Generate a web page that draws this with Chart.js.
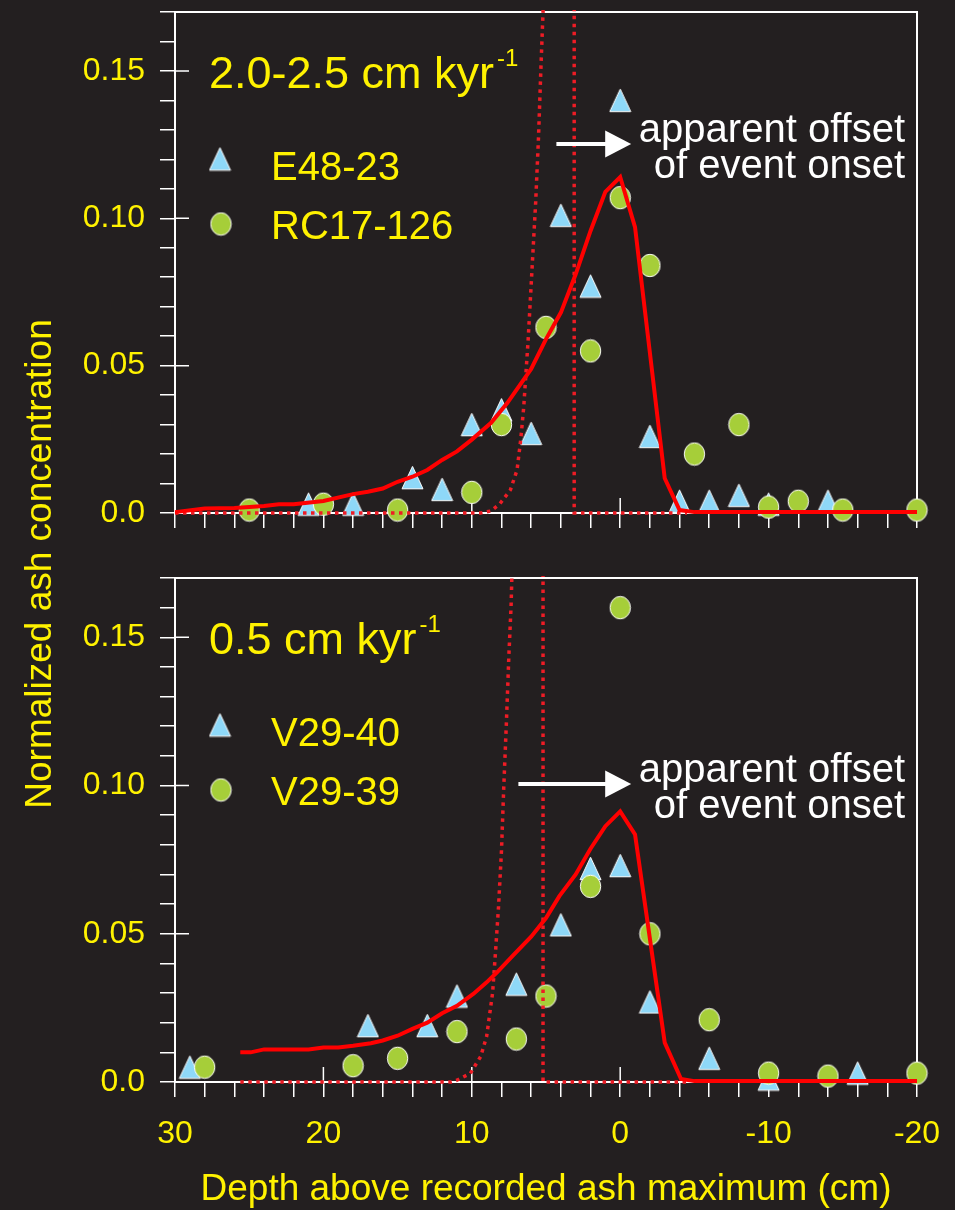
<!DOCTYPE html>
<html>
<head>
<meta charset="utf-8">
<script src="https://cdn.jsdelivr.net/npm/chart.js@4.4.1/dist/chart.umd.min.js"></script>
<style>
  html, body { margin: 0; padding: 0; background: #231f20; }
  #wrap { position: relative; width: 955px; height: 1210px; }
  #wrap canvas { position: absolute; left: 0; top: 0; }
</style>
</head>
<body>
<div id="wrap">
  <canvas id="upper" width="955" height="1210"></canvas>
  <canvas id="lower" width="955" height="1210"></canvas>
</div>
<script>
// depth above recorded ash maximum (cm) / normalized ash concentration

// upper panel, 2.0-2.5 cm/kyr
var e4823Depth = [21, 18, 14, 12, 10, 8, 6, 4, 2, 0, -2, -4, -6, -8, -10, -14];
var e4823Conc  = [0.003, 0.003, 0.012, 0.008, 0.030, 0.035, 0.027, 0.101, 0.077, 0.140, 0.026, 0.004, 0.004, 0.006, 0.003, 0.004];
var rc17Depth = [25, 20, 15, 10, 8, 5, 2, 0, -2, -5, -8, -10, -12, -15, -20];
var rc17Conc  = [0.001, 0.003, 0.001, 0.007, 0.030, 0.063, 0.055, 0.107, 0.084, 0.020, 0.030, 0.002, 0.004, 0.001, 0.001];
var upModelDepth = [30, 28, 26, 24, 23, 22, 20, 18, 17, 16, 15, 14, 13, 12, 11, 10, 8.7, 7.6, 6, 5, 4, 3, 2, 1, 0, -1, -3, -4, -5, -20];
var upModelConc  = [0.0003, 0.0015, 0.0017, 0.0024, 0.003, 0.003, 0.0041, 0.0064, 0.0072, 0.0083, 0.0106, 0.0123, 0.0146, 0.018, 0.0209, 0.0249, 0.0306, 0.0374, 0.0489, 0.059, 0.068, 0.081, 0.0957, 0.109, 0.114, 0.097, 0.0118, 0.001, 0.0003, 0.0003];
var upInputDepth = [30, 9.4, 8.7, 8.1, 7.4, 6.95, 6.7, 6.5, 6.2, 5.95, 5.7, 5.5, 5.35, 5.2, 5.1];
var upInputConc  = [0, 0, 0.0007, 0.0032, 0.0078, 0.0146, 0.025, 0.036, 0.059, 0.082, 0.105, 0.128, 0.150, 0.170, 0.185];
var upOnsetDepth = [3.1, 3.1, -4.5];
var upOnsetConc  = [0.185, 0, 0];

// lower panel, 0.5 cm/kyr
var v2940Depth = [29, 17, 13, 11, 7, 4, 2, 0, -2, -6, -10, -16];
var v2940Conc  = [0.005, 0.019, 0.019, 0.029, 0.033, 0.053, 0.072, 0.073, 0.027, 0.008, 0.001, 0.003];
var v2939Depth = [28, 18, 15, 11, 7, 5, 2, 0, -2, -6, -10, -14, -20];
var v2939Conc  = [0.005, 0.0055, 0.008, 0.017, 0.0145, 0.029, 0.066, 0.160, 0.050, 0.021, 0.003, 0.002, 0.003];
var lowModelDepth = [25.6, 24.9, 24, 21, 20, 19, 18, 16.8, 16, 15, 14, 13, 12, 11, 9.9, 9, 8.3, 7.2, 6, 5, 4.1, 3, 2, 1, 0, -1, -3, -4.1, -5, -20];
var lowModelConc  = [0.010, 0.010, 0.011, 0.011, 0.0116, 0.0116, 0.0122, 0.0131, 0.014, 0.0156, 0.0179, 0.020, 0.0232, 0.0257, 0.0297, 0.0336, 0.037, 0.0428, 0.049, 0.0553, 0.0627, 0.070, 0.0787, 0.0863, 0.0913, 0.0835, 0.0133, 0.001, 0.0003, 0.0003];
var lowInputDepth = [25.6, 11.4, 11.0, 10.1, 9.4, 9.0, 8.6, 8.4, 8.2, 8.0, 7.85, 7.67, 7.5, 7.35, 7.25];
var lowInputConc  = [0, 0, 0.0006, 0.0029, 0.0086, 0.0154, 0.030, 0.044, 0.059, 0.078, 0.099, 0.121, 0.144, 0.161, 0.180];
var lowOnsetDepth = [5.2, 5.2, -4.5];
var lowOnsetConc  = [0.185, 0, 0];

var majorYTicks = [0, 0.05, 0.10, 0.15];
var majorXTicks = [20, 10, 0, -10];

var YELLOW = '#fff200';
var FONT = '"Liberation Sans", Arial, Helvetica, sans-serif';
Chart.defaults.font.family = FONT;

function pts(xs, ys) {
    return xs.map(function(x, i) { return { x: x, y: ys[i] }; });
}

// marker images: light blue triangle, green (slightly tall) dot
var triImg = document.createElement('canvas');
triImg.width = 23; triImg.height = 25;
(function() {
    var c = triImg.getContext('2d');
    c.beginPath();
    c.moveTo(11.5, 1.2); c.lineTo(22, 23.7); c.lineTo(1, 23.7); c.closePath();
    c.fillStyle = '#8ed8f8'; c.fill();
    c.strokeStyle = '#ffffff'; c.lineWidth = 1; c.stroke();
})();
var dotImg = document.createElement('canvas');
dotImg.width = 23; dotImg.height = 25;
(function() {
    var c = dotImg.getContext('2d');
    c.beginPath();
    c.ellipse(11.5, 12.5, 10.2, 11.2, 0, 0, Math.PI * 2);
    c.fillStyle = '#a6ce39'; c.fill();
    c.strokeStyle = '#ffffff'; c.lineWidth = 1; c.stroke();
})();

var panelDecor = {
    id: 'panelDecor',
    beforeDatasetsDraw: function(chart) {
        var ctx = chart.ctx, a = chart.chartArea;
        var xs = chart.scales.x, ys = chart.scales.y;
        ctx.save();
        ctx.strokeStyle = '#ffffff';
        ctx.lineWidth = 2;
        ctx.strokeRect(a.left, a.top, a.right - a.left, a.bottom - a.top);
        ctx.lineWidth = 1.5;
        ctx.beginPath();
        majorYTicks.forEach(function(v) {
            var py = ys.getPixelForValue(v);
            ctx.moveTo(a.left, py); ctx.lineTo(a.left + 14, py);
        });
        majorXTicks.forEach(function(v) {
            var px = xs.getPixelForValue(v);
            ctx.moveTo(px, a.bottom); ctx.lineTo(px, a.bottom - 15);
        });
        ctx.stroke();
        ctx.restore();
    },
    afterDatasetsDraw: function(chart, args, o) {
        var ctx = chart.ctx, a = chart.chartArea;
        var xs = chart.scales.x, ys = chart.scales.y;
        ctx.save();

        // sedimentation rate label
        ctx.fillStyle = YELLOW;
        ctx.textAlign = 'left';
        ctx.textBaseline = 'alphabetic';
        ctx.font = '45px ' + FONT;
        ctx.fillText(o.rate, a.left + 34, a.top + 76);
        var w = ctx.measureText(o.rate).width;
        ctx.font = '24px ' + FONT;
        ctx.fillText('-1', a.left + 34 + w + 3, a.top + 54);

        // legend
        ctx.drawImage(triImg, a.left + 45 - triImg.width / 2, a.top + 147 - triImg.height / 2);
        ctx.drawImage(dotImg, a.left + 46 - dotImg.width / 2, a.top + 212 - dotImg.height / 2);
        ctx.font = '40px ' + FONT;
        ctx.fillText(o.names[0], a.left + 96, a.top + 167.5);
        ctx.fillText(o.names[1], a.left + 96, a.top + 227);

        // arrow + note
        var ay = ys.getPixelForValue(o.arrowAt);
        var x0 = xs.getPixelForValue(o.arrowFrom), x1 = xs.getPixelForValue(o.arrowTo);
        ctx.strokeStyle = '#ffffff';
        ctx.fillStyle = '#ffffff';
        ctx.lineWidth = 4;
        ctx.beginPath();
        ctx.moveTo(x0, ay); ctx.lineTo(x1 - 20, ay);
        ctx.stroke();
        ctx.beginPath();
        ctx.moveTo(x1, ay); ctx.lineTo(x1 - 26, ay - 13.5); ctx.lineTo(x1 - 26, ay + 13.5);
        ctx.closePath();
        ctx.fill();
        ctx.font = '40px ' + FONT;
        ctx.textAlign = 'right';
        ctx.fillText('apparent offset', a.right - 12, ay - 2.5);
        ctx.fillText('of event onset', a.right - 12, ay + 33.5);

        // shared y title
        if (o.yTitle) {
            ctx.translate(41, 564);
            ctx.rotate(-Math.PI / 2);
            ctx.textAlign = 'center';
            ctx.textBaseline = 'middle';
            ctx.fillStyle = YELLOW;
            ctx.font = '37px ' + FONT;
            ctx.fillText(o.yTitle, 0, 0);
        }
        ctx.restore();
    }
};

function curve(label, data, color, width, dash) {
    return {
        type: 'line',
        label: label,
        data: data,
        borderColor: color,
        borderWidth: width,
        borderDash: dash,
        borderCapStyle: 'butt',
        borderJoinStyle: 'miter',
        fill: false,
        tension: 0,
        pointRadius: 0,
        clip: { left: 3, right: 3, top: 2, bottom: 4 },
        order: 0
    };
}

function buildPanel(canvasId, series, deco, pad, xHeight, bottomAxis) {
    return new Chart(document.getElementById(canvasId), {
        type: 'scatter',
        data: {
            datasets: [
                curve('model', pts(series.modelX, series.modelY), '#ff0000', 4, []),
                curve('input', pts(series.inputX, series.inputY), '#ee1c25', 3.5, [3.5, 4.5]),
                curve('onset', pts(series.onsetX, series.onsetY), '#ee1c25', 3.5, [3.5, 4.5]),
                {
                    label: deco.names[0],
                    data: pts(series.triX, series.triY),
                    pointStyle: triImg,
                    pointRadius: 11,
                    clip: false,
                    order: 2
                },
                {
                    label: deco.names[1],
                    data: pts(series.dotX, series.dotY),
                    pointStyle: dotImg,
                    pointRadius: 11,
                    clip: false,
                    order: 1
                }
            ]
        },
        options: {
            responsive: false,
            animation: false,
            devicePixelRatio: 1,
            events: [],
            layout: { padding: pad },
            plugins: {
                legend: { display: false },
                tooltip: { enabled: false },
                panelDecor: deco
            },
            scales: {
                x: {
                    type: 'linear',
                    min: -20,
                    max: 30,
                    reverse: true,
                    afterFit: function(s) {
                        s.height = xHeight;
                        s.paddingLeft = 0; s.paddingRight = 0;
                    },
                    ticks: {
                        display: bottomAxis,
                        stepSize: 2,
                        autoSkip: false,
                        maxRotation: 0,
                        padding: 18,
                        color: YELLOW,
                        font: { size: 32 },
                        callback: function(v) { return v % 10 === 0 ? String(v) : ''; }
                    },
                    grid: { drawOnChartArea: false, tickLength: 15, color: '#ffffff', lineWidth: 1.5 },
                    border: { color: '#ffffff', width: 2 },
                    title: {
                        display: bottomAxis,
                        text: 'Depth above recorded ash maximum (cm)',
                        color: YELLOW,
                        font: { size: 37, lineHeight: 1.1 },
                        padding: { top: 0, bottom: 0 }
                    }
                },
                y: {
                    type: 'linear',
                    min: 0,
                    max: 0.17,
                    afterFit: function(s) {
                        s.width = 175;
                        s.paddingTop = 0; s.paddingBottom = 0;
                    },
                    ticks: {
                        stepSize: 0.01,
                        autoSkip: false,
                        padding: 15,
                        color: YELLOW,
                        font: { size: 32 },
                        callback: function(v) {
                            var k = Math.round(v * 100);
                            if (k % 5 !== 0) return '';
                            return k === 0 ? '0.0' : (k / 100).toFixed(2);
                        }
                    },
                    grid: { drawOnChartArea: false, tickLength: 15, color: '#ffffff', lineWidth: 1.5 },
                    border: { color: '#ffffff', width: 2 }
                }
            }
        },
        plugins: [panelDecor]
    });
}

buildPanel('upper', {
    modelX: upModelDepth, modelY: upModelConc,
    inputX: upInputDepth, inputY: upInputConc,
    onsetX: upOnsetDepth, onsetY: upOnsetConc,
    triX: e4823Depth, triY: e4823Conc,
    dotX: rc17Depth, dotY: rc17Conc
}, {
    rate: '2.0-2.5 cm kyr',
    names: ['E48-23', 'RC17-126'],
    arrowAt: 0.1252, arrowFrom: 4.3, arrowTo: -0.74,
    yTitle: 'Normalized ash concentration'
}, { left: 0, right: 38, top: 9, bottom: 667 }, 30, false);

buildPanel('lower', {
    modelX: lowModelDepth, modelY: lowModelConc,
    inputX: lowInputDepth, inputY: lowInputConc,
    onsetX: lowOnsetDepth, onsetY: lowOnsetConc,
    triX: v2940Depth, triY: v2940Conc,
    dotX: v2939Depth, dotY: v2939Conc
}, {
    rate: '0.5 cm kyr',
    names: ['V29-40', 'V29-39'],
    arrowAt: 0.1005, arrowFrom: 6.86, arrowTo: -0.74,
    yTitle: null
}, { left: 0, right: 38, top: 578, bottom: 0 }, 128, true);
</script>
</body>
</html>
